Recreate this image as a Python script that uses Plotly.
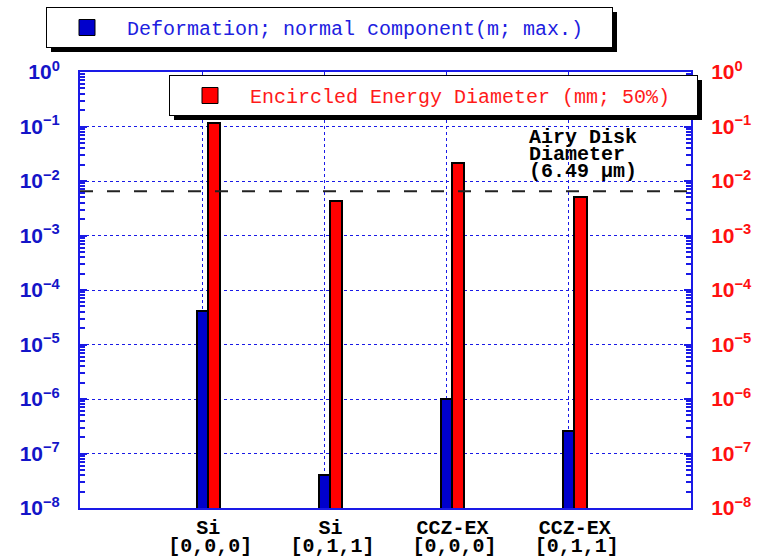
import math
import plotly.graph_objects as go

# ---------------- data ----------------
positions = [1, 2, 3, 4]
materials = ["Si", "Si", "CCZ-EX", "CCZ-EX"]
orientations = ["[0,0,0]", "[0,1,1]", "[0,0,0]", "[0,1,1]"]
deformation_m = [4.1e-5, 4.0e-8, 1.0e-6, 2.6e-7]          # left axis (blue)
ee_diameter_mm = [0.116, 4.35e-3, 2.17e-2, 5.15e-3]        # right axis (red)
airy_mm = 6.49e-3
airy_lines = ["Airy Disk", "Diameter", "(6.49 µm)"]
decades = list(range(-8, 1))
tick_vals = [10.0 ** e for e in decades]
tick_text = ["10<sup>%s</sup>" % (str(e).replace("-", "−")) for e in decades]
minor_vals = [k * 10.0 ** e for e in range(-8, 0) for k in range(2, 10)]
x_range = [0, 5]

# ---------------- style ----------------
W, H = 757, 558
ML, MR, MT, MB = 80, 66, 72, 50
PW, PH = W - ML - MR, H - MT - MB
AX_BLUE = "#1a1ae6"
BAR_BLUE = "#0000cc"
BAR_RED = "#ff0000"
MONO = "Liberation Mono"


def px_x(px):
    return (px - ML) / PW


def px_y(py):
    return (H - MB - py) / PH


def shadow_strip(x0, y0, x1, y1):
    return dict(
        xref="paper", yref="paper", x=px_x(x0), y=px_y(y0),
        xanchor="left", yanchor="top", width=x1 - x0, height=y1 - y0,
        text=" ", showarrow=False, bgcolor="black", borderpad=0, borderwidth=0,
        font=dict(size=1, color="black"),
    )


fig = go.Figure()

fig.add_trace(go.Bar(
    x=positions, y=deformation_m, xaxis="x", yaxis="y",
    offset=-0.045, width=0.09,
    marker=dict(color=BAR_BLUE, line=dict(color="black", width=2)),
    showlegend=False, name="Deformation",
))
fig.add_trace(go.Bar(
    x=positions, y=ee_diameter_mm, xaxis="x2", yaxis="y2",
    offset=0.045, width=0.1,
    marker=dict(color=BAR_RED, line=dict(color="black", width=2)),
    showlegend=False, name="Encircled Energy",
))
# Airy disk diameter reference line
fig.add_trace(go.Scatter(
    x=x_range, y=[airy_mm, airy_mm], xaxis="x2", yaxis="y2",
    mode="lines", line=dict(color="#222222", width=2, dash="13px,14px"),
    showlegend=False, hoverinfo="skip",
))
# legend entries
fig.add_trace(go.Scatter(
    x=[None], y=[None], mode="markers", xaxis="x", yaxis="y",
    marker=dict(symbol="square", size=16, color=BAR_BLUE, line=dict(color="black", width=1)),
    name="Deformation; normal component(m; max.)", legend="legend",
))
fig.add_trace(go.Scatter(
    x=[None], y=[None], mode="markers", xaxis="x2", yaxis="y2",
    marker=dict(symbol="square", size=16, color=BAR_RED, line=dict(color="black", width=1)),
    name="Encircled Energy Diameter (mm; 50%)", legend="legend2",
))

yaxis_common = dict(
    type="log", range=[-8, 0], tickmode="array", tickvals=tick_vals, ticktext=tick_text,
    ticks="inside", ticklen=7, tickwidth=2, tickcolor=AX_BLUE,
    showline=True, linecolor=AX_BLUE, linewidth=2,
    minor=dict(tickmode="array", tickvals=minor_vals, ticks="inside", ticklen=5,
               tickwidth=2, tickcolor=AX_BLUE, showgrid=False),
    zeroline=False, ticklabelstandoff=14, automargin=False,
)

annotations = []
for i, line in enumerate(airy_lines):
    annotations.append(dict(
        xref="paper", x=px_x(527), xanchor="left",
        yref="y2", y=math.log10(airy_mm), yanchor="middle",
        yshift=(191 - 137) - 17 * i,
        text="<b>%s</b>" % line, showarrow=False,
        font=dict(family=MONO, size=20, color="black"),
    ))

# legend boxes (px): L1 left 46 top 7 w 566 h 40 ; L2 left 169 top 75 w 528 h 40
annotations += [
    shadow_strip(612, 12, 617, 52),
    shadow_strip(51, 47, 617, 52),
    shadow_strip(697, 80, 702, 120),
    shadow_strip(174, 115, 702, 120),
]

fig.update_layout(
    width=W, height=H, margin=dict(l=ML, r=MR, t=MT, b=MB, autoexpand=False),
    paper_bgcolor="white", plot_bgcolor="white",
    barmode="overlay", bargap=0,
    xaxis=dict(range=x_range, tickmode="array", tickvals=positions, ticktext=materials,
               showgrid=True, gridcolor=AX_BLUE, griddash="dot", gridwidth=1,
               showline=True, linecolor=AX_BLUE, linewidth=2, mirror=True,
               ticks="", zeroline=False, ticklabelshift=6, ticklabelstandoff=0,
               automargin=False,
               tickfont=dict(family=MONO, size=20, color="black", weight="bold")),
    xaxis2=dict(range=x_range, overlaying="x", anchor="y2", side="bottom",
                tickmode="array", tickvals=positions, ticktext=orientations,
                showgrid=False, showline=False, ticks="", zeroline=False,
                ticklabelshift=8, ticklabelstandoff=23, automargin=False,
                tickfont=dict(family=MONO, size=20, color="black", weight="bold")),
    yaxis=dict(**yaxis_common, side="left", showgrid=True, gridcolor=AX_BLUE,
               griddash="dot", gridwidth=1,
               tickfont=dict(family="Liberation Sans", size=21, color="#1414c8", weight="bold")),
    yaxis2=dict(**yaxis_common, side="right", overlaying="y", anchor="x2", showgrid=False,
                tickfont=dict(family="Liberation Sans", size=21, color="#ff1010", weight="bold")),
    legend=dict(x=px_x(46), y=px_y(7), xanchor="left", yanchor="top",
                orientation="h", bgcolor="white", bordercolor="black", borderwidth=1,
                itemwidth=70, entrywidth=480,
                font=dict(family=MONO, size=20, color="#2020e0")),
    legend2=dict(x=px_x(169), y=px_y(75), xanchor="left", yanchor="top",
                 orientation="h", bgcolor="white", bordercolor="black", borderwidth=1,
                 itemwidth=70, entrywidth=442,
                 font=dict(family=MONO, size=20, color="#ff1a1a")),
    annotations=annotations,
)

fig.write_html("out.html")
